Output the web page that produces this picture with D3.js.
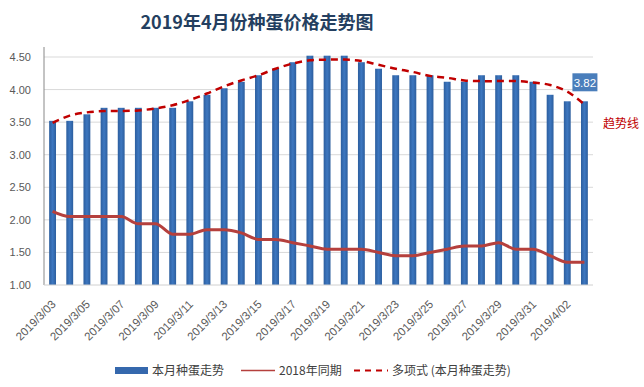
<html>
<head>
<meta charset="utf-8">
<script src="https://d3js.org/d3.v7.min.js"></script>
<style>
  body { margin: 0; background: #fff; }
  text { font-family: "Noto Sans CJK SC", "Open Sans", sans-serif; }
</style>
</head>
<body>
<div id="chart"></div>
<script>

// dates shown on the x axis (one bar per day)
var dates = ["2019/3/03","2019/3/04","2019/3/05","2019/3/06","2019/3/07","2019/3/08","2019/3/09","2019/3/10",
             "2019/3/11","2019/3/12","2019/3/13","2019/3/14","2019/3/15","2019/3/16","2019/3/17","2019/3/18",
             "2019/3/19","2019/3/20","2019/3/21","2019/3/22","2019/3/23","2019/3/24","2019/3/25","2019/3/26",
             "2019/3/27","2019/3/28","2019/3/29","2019/3/30","2019/3/31","2019/4/01","2019/4/02","2019/4/03"];

// 本月种蛋走势 (bars)
var thisMonth = [3.52,3.52,3.62,3.72,3.72,3.72,3.72,3.72,3.82,3.92,4.02,4.12,4.22,4.32,4.42,4.52,
                 4.52,4.52,4.42,4.32,4.22,4.22,4.22,4.12,4.12,4.22,4.22,4.22,4.12,3.92,3.82,3.82];

// 2018年同期
var lastYear = [2.13,2.05,2.05,2.05,2.05,1.94,1.94,1.78,1.78,1.85,1.85,1.80,1.70,1.70,1.65,1.60,
                1.55,1.55,1.55,1.50,1.45,1.45,1.50,1.55,1.60,1.60,1.65,1.55,1.55,1.45,1.35,1.35];

// 多项式 trend line
var trend = [3.49,3.60,3.65,3.67,3.67,3.68,3.71,3.76,3.84,3.94,4.05,4.14,4.22,4.32,4.40,4.45,
             4.46,4.46,4.44,4.38,4.32,4.27,4.21,4.18,4.14,4.13,4.13,4.13,4.11,4.07,3.97,3.77];

var yTicks = [1.00,1.50,2.00,2.50,3.00,3.50,4.00,4.50];

var width = 644, height = 387;
var plotLeft = 44, plotRight = 593, plotTop = 57, plotBottom = 285;

var svg = d3.select("#chart").append("svg")
    .attr("width", width)
    .attr("height", height);

var x = d3.scaleBand().domain(dates).range([plotLeft, plotRight]).paddingInner(0.6).paddingOuter(0.3);
var y = d3.scaleLinear().domain([1, 4.5]).range([plotBottom, plotTop]);

// title
svg.append("text")
    .attr("x", 257).attr("y", 29)
    .attr("text-anchor", "middle")
    .style("font-size", "18px")
    .style("font-weight", "bold")
    .style("fill", "#243f60")
    .text("2019年4月份种蛋价格走势图");

// gridlines
svg.append("g").selectAll("line")
    .data(yTicks.slice(1))
    .enter().append("line")
    .attr("x1", plotLeft).attr("x2", plotRight)
    .attr("y1", function(d){ return y(d); })
    .attr("y2", function(d){ return y(d); })
    .style("stroke", "#d9d9d9")
    .style("stroke-width", 1);

// y axis
var yAxis = svg.append("g")
    .attr("transform", "translate(" + plotLeft + ",0)")
    .call(d3.axisLeft(y).tickValues(yTicks).tickFormat(d3.format(".2f")).tickSize(0).tickPadding(13));
yAxis.select(".domain").remove();
yAxis.selectAll("text").style("font-size", "11px").style("fill", "#595959")
    .style("font-family", "'Liberation Sans', Arial, sans-serif");

svg.append("line")
    .attr("x1", plotLeft).attr("x2", plotLeft).attr("y1", 47).attr("y2", plotBottom)
    .style("stroke", "#888").style("stroke-width", 1);

// bar gradient
var defs = svg.append("defs");
var grad = defs.append("linearGradient").attr("id", "barGrad")
    .attr("x1", "0").attr("x2", "1").attr("y1", "0").attr("y2", "0");
grad.append("stop").attr("offset", "0").attr("stop-color", "#2c5e9e");
grad.append("stop").attr("offset", "0.5").attr("stop-color", "#3d77c0");
grad.append("stop").attr("offset", "1").attr("stop-color", "#2c5e9e");

// bars
svg.append("g").selectAll("rect")
    .data(thisMonth)
    .enter().append("rect")
    .attr("x", function(d, i){ return x(dates[i]); })
    .attr("y", function(d){ return y(d); })
    .attr("width", x.bandwidth())
    .attr("height", function(d){ return plotBottom - y(d); })
    .style("fill", "url(#barGrad)");

// x axis line
svg.append("line")
    .attr("x1", plotLeft).attr("x2", plotRight).attr("y1", plotBottom).attr("y2", plotBottom)
    .style("stroke", "#d0d0d0").style("stroke-width", 1);

// x labels, every other date
var xAxis = svg.append("g")
    .attr("transform", "translate(0," + plotBottom + ")")
    .call(d3.axisBottom(x).tickValues(dates.filter(function(d, i){ return i % 2 == 0; })).tickSize(0));
xAxis.select(".domain").remove();
xAxis.selectAll("text")
    .attr("text-anchor", "end")
    .attr("x", 0).attr("y", 0).attr("dy", 0)
    .attr("transform", "translate(4,20) rotate(-45)")
    .style("font-size", "11.5px")
    .style("fill", "#5a5a5a")
    .style("font-family", "'Liberation Sans', Arial, sans-serif");

var cx = function(d, i){ return x(dates[i]) + x.bandwidth() / 2; };

// 2018 line
svg.append("path")
    .datum(lastYear)
    .attr("d", d3.line().x(cx).y(function(d){ return y(d); }).curve(d3.curveMonotoneX))
    .style("fill", "none")
    .style("stroke", "#b5403d")
    .style("stroke-width", 3);

// trend line
svg.append("path")
    .datum(trend)
    .attr("d", d3.line().x(cx).y(function(d){ return y(d); }).curve(d3.curveCatmullRom))
    .style("fill", "none")
    .style("stroke", "#c00000")
    .style("stroke-width", 2.5)
    .style("stroke-dasharray", "7,5");

// last value label
var lastI = thisMonth.length - 1;
var lx = cx(null, lastI);
svg.append("rect")
    .attr("x", lx - 12).attr("y", y(thisMonth[lastI]) - 28)
    .attr("width", 25).attr("height", 18)
    .style("fill", "#4a7ebb");
svg.append("text")
    .attr("x", lx + 0.5).attr("y", y(thisMonth[lastI]) - 14.5)
    .attr("text-anchor", "middle")
    .style("font-size", "11.5px")
    .style("fill", "#fff")
    .style("font-family", "'Liberation Sans', Arial, sans-serif")
    .text(d3.format(".2f")(thisMonth[lastI]));

svg.append("text")
    .attr("x", 603).attr("y", 128)
    .style("font-size", "12px")
    .style("fill", "#c00000")
    .text("趋势线");

// legend
var leg = svg.append("g").attr("transform", "translate(0,370)");
leg.append("rect").attr("x", 115).attr("y", -3).attr("width", 33).attr("height", 7).style("fill", "#3568ad");
leg.append("text").attr("x", 152).attr("y", 5).style("font-size", "12px").style("fill", "#404040").text("本月种蛋走势");
leg.append("line").attr("x1", 241).attr("x2", 275).attr("y1", 0.5).attr("y2", 0.5)
    .style("stroke", "#b5403d").style("stroke-width", 1.5);
leg.append("text").attr("x", 279).attr("y", 5).style("font-size", "12px").style("fill", "#404040").text("2018年同期");
leg.append("line").attr("x1", 354).attr("x2", 388).attr("y1", 0.5).attr("y2", 0.5)
    .style("stroke", "#c00000").style("stroke-width", 2).style("stroke-dasharray", "6,5");
leg.append("text").attr("x", 392).attr("y", 5).style("font-size", "12px").style("fill", "#404040").text("多项式 (本月种蛋走势)");

</script>
</body>
</html>
